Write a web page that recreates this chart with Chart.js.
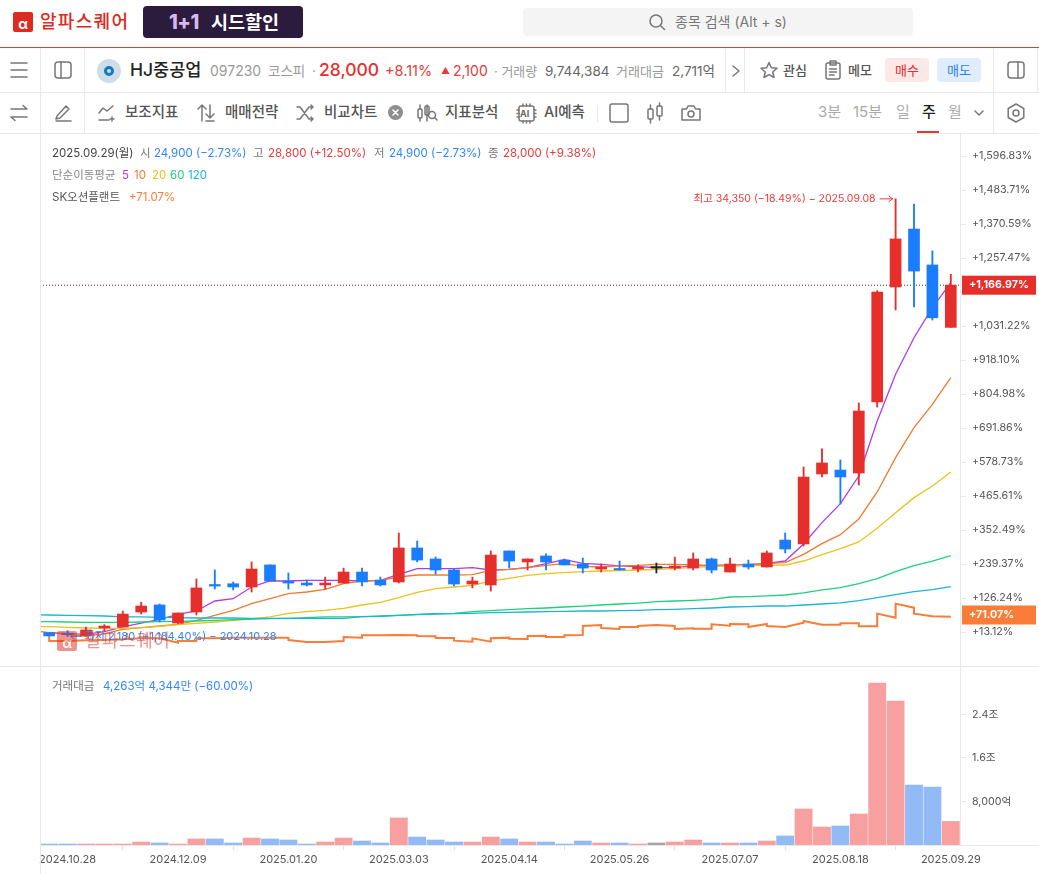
<!DOCTYPE html>
<html lang="ko">
<head>
<meta charset="utf-8">
<title>HJ중공업 주봉 차트</title>
<script src="https://cdn.jsdelivr.net/npm/chart.js@4"></script>
<style>
  html, body { margin: 0; padding: 0; background: #fff; }
  body { position: relative; width: 1039px; height: 874px; overflow: hidden;
         font-family: Inter, "Noto Sans CJK KR", sans-serif; color: #555; }
  .t { position: absolute; line-height: 20px; white-space: nowrap; font-size: 14px; }
  .line { position: absolute; background: #e8e8e8; }
  svg.i { position: absolute; fill: none; stroke: #777; stroke-width: 1.5; stroke-linecap: round; stroke-linejoin: round; }
  canvas { position: absolute; left: 0; }
  .menu { color: #555; font-weight: 500; font-size: 14.5px; }
  .leg { font-size: 11.5px; color: #777; }
  .red { color: #e83a3a; } .blue { color: #2f86ff; }
  .logo { position: absolute; background: #dd2a22; border-radius: 2px; color: #fff; text-align: center; font-weight: 700; }
</style>
</head>
<body>
<!-- top bar -->
<div class="logo" style="left:13px;top:12px;width:20px;height:20px;line-height:24px;font-size:14px">α</div>
<div class="t" style="left:40px;top:12px;font-size:18px;font-weight:500;color:#dd2a22;letter-spacing:1.3px">알파스퀘어</div>
<div style="position:absolute;left:143px;top:6px;width:160px;height:32px;border-radius:4px;background:#2b1b3d"></div>
<div class="t" style="left:169px;top:12px;font-size:20px;font-weight:800;color:#d9b8ee;letter-spacing:-.5px">1+1</div>
<div class="t" style="left:211px;top:12px;font-size:18.5px;font-weight:700;color:#fff">시드할인</div>
<div style="position:absolute;left:523px;top:8px;width:390px;height:28px;border-radius:4px;background:#f4f4f4"></div>
<svg class="i" style="left:648px;top:13px" width="18" height="18"><circle cx="8" cy="8" r="6"/><path d="M12.5 12.5 L16.5 16.5"/></svg>
<div class="t" style="left:675px;top:12px;color:#777">종목 검색 (Alt + s)</div>
<div class="line" style="left:0;top:47px;width:1039px;height:1px;background:#e5392f"></div>

<!-- symbol row -->
<svg class="i" style="left:10px;top:61px" width="18" height="18"><path d="M1 2H17M1 9H17M1 16H17"/></svg>
<svg class="i" style="left:54px;top:61px" width="18" height="18"><rect x="1" y="1" width="16" height="16" rx="3"/><path d="M7 1V17"/></svg>
<div style="position:absolute;left:97px;top:59px;width:24px;height:24px;border-radius:50%;background:#cfdde6"></div>
<div style="position:absolute;left:104px;top:66px;width:4px;height:4px;border:3px solid #1279c9;border-radius:50%"></div>
<div class="t" style="left:130px;top:60px;font-size:17.5px;font-weight:500;color:#222">HJ중공업</div>
<div class="t" style="left:210px;top:61px;color:#999">097230</div>
<div class="t" style="left:268px;top:61px;color:#999;font-size:13.5px">코스피</div>
<div class="t" style="left:312px;top:61px;color:#999">·</div>
<div class="t" style="left:319px;top:60px;font-size:17.5px;font-weight:500;color:#e62e2e">28,000</div>
<div class="t red" style="left:385px;top:61px;font-size:14.5px">+8.11%</div>
<div class="t red" style="left:441px;top:61px;font-size:9px">▲</div>
<div class="t red" style="left:453px;top:61px">2,100</div>
<div class="t" style="left:494px;top:61px;color:#999;font-size:13px">· 거래량</div>
<div class="t" style="left:545px;top:61px;color:#666;font-size:13.5px">9,744,384</div>
<div class="t" style="left:616px;top:61px;color:#999;font-size:13px">거래대금</div>
<div class="t" style="left:672px;top:61px;color:#666;font-size:13.5px">2,711억</div>
<svg class="i" style="left:731px;top:64px" width="10" height="14"><path d="M2 2L8 7L2 12"/></svg>
<svg class="i" style="left:760px;top:61px" width="18" height="18"><path d="M9 1.5L11.3 6.7L17 7.3L12.7 11L14 16.5L9 13.6L4 16.5L5.3 11L1 7.3L6.7 6.7Z"/></svg>
<div class="t menu" style="left:783px;top:60px;font-size:13px">관심</div>
<svg class="i" style="left:825px;top:60px" width="16" height="20"><rect x="1" y="3" width="14" height="16" rx="2"/><path d="M5 1H11V5H5ZM4.5 9H11.5M4.5 12H11.5M4.5 15H9"/></svg>
<div class="t menu" style="left:848px;top:60px;font-size:13px">메모</div>
<div class="t" style="left:885px;top:58px;width:44px;height:24px;line-height:24px;text-align:center;background:#fde8e8;border-radius:4px;color:#ee2a2a;font-size:13px">매수</div>
<div class="t" style="left:937px;top:58px;width:44px;height:24px;line-height:24px;text-align:center;background:#e0edfd;border-radius:4px;color:#2a80ee;font-size:13px">매도</div>
<svg class="i" style="left:1007px;top:61px" width="18" height="18"><rect x="1" y="1" width="16" height="16" rx="3"/><path d="M11 1V17"/></svg>

<!-- toolbar row -->
<svg class="i" style="left:10px;top:104px" width="18" height="18"><path d="M1 5H17L13 1.5M17 13H1L5 16.5"/></svg>
<svg class="i" style="left:54px;top:104px" width="18" height="18"><path d="M3 12L12 2L15 5L6 14L2 15ZM2 17H17"/></svg>
<svg class="i" style="left:98px;top:104px" width="18" height="18"><path d="M1 9L5 4L9 7L15 2M1 16H11M14 13V17M12 15H16"/></svg>
<div class="t menu" style="left:125px;top:102px">보조지표</div>
<svg class="i" style="left:197px;top:103px" width="18" height="20"><path d="M5 18V2L1 6M5 2L9 6M13 2V15M9 11L13 15L17 11M9 18H17"/></svg>
<div class="t menu" style="left:225px;top:102px">매매전략</div>
<svg class="i" style="left:296px;top:104px" width="18" height="18"><path d="M1 3H4L13 15H17M1 15H4L13 3H17M15 1L17 3L15 5M15 13L17 15L15 17"/></svg>
<div class="t menu" style="left:324px;top:102px">비교차트</div>
<div style="position:absolute;left:388px;top:105px;width:15px;height:15px;border-radius:50%;background:#8f8f8f"></div>
<svg class="i" style="left:388px;top:105px;stroke:#fff" width="15" height="15"><path d="M5 5L10 10M10 5L5 10"/></svg>
<svg class="i" style="left:417px;top:103px" width="21" height="20"><rect x="1" y="6" width="4" height="9" rx="1"/><path d="M3 2V6M3 15V18M10 2V18"/><rect x="8" y="3" width="4" height="9" rx="1"/><circle cx="15" cy="12" r="3.5"/><path d="M17.5 14.5L20 17"/></svg>
<div class="t menu" style="left:445px;top:102px">지표분석</div>
<svg class="i" style="left:516px;top:103px" width="21" height="21"><rect x="3" y="3" width="15" height="15" rx="2"/><path d="M7 1V3M10.500 1V3M14 1V3M7 18V20M10.500 18V20M14 18V20M1 7H3M1 10.500H3M1 14H3M18 7H20M18 10.500H20M18 14H20"/></svg>
<div class="t" style="left:520px;top:104px;font-size:9px;font-weight:700;color:#666">AI</div>
<div class="t menu" style="left:544px;top:102px">AI예측</div>
<div class="line" style="left:597px;top:105px;width:1px;height:17px"></div>
<svg class="i" style="left:609px;top:103px" width="20" height="20"><rect x="1" y="1" width="18" height="18" rx="2"/></svg>
<svg class="i" style="left:647px;top:102px" width="17" height="22"><rect x="1" y="7" width="5" height="10" rx="1"/><rect x="10" y="4" width="5" height="10" rx="1"/><path d="M3.500 3V7M3.500 17V21M12.500 1V4M12.500 14V18"/></svg>
<svg class="i" style="left:681px;top:104px" width="20" height="18"><path d="M1 5H5.500L7 2H13L14.500 5H19V16H1Z"/><circle cx="10" cy="10" r="3"/></svg>
<div class="t" style="left:818px;top:102px;color:#aaa;font-size:15px">3분</div>
<div class="t" style="left:853px;top:102px;color:#aaa;font-size:15px">15분</div>
<div class="t" style="left:896px;top:102px;color:#aaa;font-size:15px">일</div>
<div class="t" style="left:922px;top:102px;color:#222;font-weight:500;font-size:15px">주</div>
<div style="position:absolute;left:917px;top:131px;width:22px;height:2px;background:#e5392f"></div>
<div class="t" style="left:948px;top:102px;color:#aaa;font-size:15px">월</div>
<svg class="i" style="left:973px;top:109px" width="12" height="9"><path d="M2 2L6 6L10 2"/></svg>
<svg class="i" style="left:1006px;top:103px" width="20" height="20"><path d="M10 1L17.800 5.500V14.500L10 19L2.200 14.500V5.500Z"/><circle cx="10" cy="10" r="3"/></svg>

<canvas id="priceChart" style="top:134px" width="1039" height="532"></canvas>
<canvas id="volumeChart" style="top:666px" width="1039" height="208"></canvas>

<!-- frame lines -->
<div class="line" style="left:0;top:92px;width:1039px;height:1px"></div>
<div class="line" style="left:0;top:133px;width:1039px;height:1px"></div>
<div class="line" style="left:0;top:666px;width:1039px;height:1px"></div>
<div class="line" style="left:40px;top:48px;width:1px;height:85px"></div>
<div class="line" style="left:84px;top:48px;width:1px;height:85px"></div>
<div class="line" style="left:725px;top:48px;width:1px;height:44px"></div>
<div class="line" style="left:744px;top:48px;width:1px;height:44px"></div>
<div class="line" style="left:993px;top:48px;width:1px;height:85px"></div>
<div class="line" style="left:1037px;top:48px;width:1px;height:44px"></div>
<div class="line" style="left:40px;top:134px;width:1px;height:740px"></div>
<div class="line" style="left:961px;top:845px;width:78px;height:1px"></div>

<!-- chart legends -->
<div class="t leg" style="left:52px;top:143px;color:#444">2025.09.29(월)</div>
<div class="t leg" style="left:140px;top:143px">시</div>
<div class="t leg blue" style="left:154px;top:143px">24,900 (−2.73%)</div>
<div class="t leg" style="left:253px;top:143px">고</div>
<div class="t leg red" style="left:268px;top:143px">28,800 (+12.50%)</div>
<div class="t leg" style="left:374px;top:143px">저</div>
<div class="t leg blue" style="left:389px;top:143px">24,900 (−2.73%)</div>
<div class="t leg" style="left:488px;top:143px">종</div>
<div class="t leg red" style="left:503px;top:143px">28,000 (+9.38%)</div>
<div class="t leg" style="left:52px;top:165px;color:#888">단순이동평균</div>
<div class="t leg" style="left:122px;top:165px;color:#b23be0">5</div>
<div class="t leg" style="left:134px;top:165px;color:#ef7b2f">10</div>
<div class="t leg" style="left:152px;top:165px;color:#e9c31c">20</div>
<div class="t leg" style="left:170px;top:165px;color:#1fd17a">60</div>
<div class="t leg" style="left:188px;top:165px;color:#1cb5d5">120</div>
<div class="t leg" style="left:52px;top:187px;color:#555">SK오션플랜트</div>
<div class="t leg" style="left:129px;top:187px;color:#f97c38">+71.07%</div>
<div class="t leg" style="left:52px;top:676px">거래대금</div>
<div class="t leg blue" style="left:103px;top:676px">4,263억 4,344만 (−60.00%)</div>

<!-- watermark -->
<div class="logo" style="left:57px;top:631px;width:20px;height:20px;line-height:24px;font-size:14px;opacity:.5">α</div>
<div class="t" style="left:85px;top:631px;font-size:18px;color:#dd2a22;opacity:.5;letter-spacing:.5px">알파스퀘어</div>

<script>
// ── Data ─────────────────────────────────────────────────────────────────────
const dates = [
  '2024.10.21','2024.10.28','2024.11.04','2024.11.11','2024.11.18','2024.11.25','2024.12.02','2024.12.09','2024.12.16','2024.12.23',
  '2024.12.30','2025.01.06','2025.01.13','2025.01.20','2025.01.27','2025.02.03','2025.02.10','2025.02.17','2025.02.24','2025.03.03',
  '2025.03.10','2025.03.17','2025.03.24','2025.03.31','2025.04.07','2025.04.14','2025.04.21','2025.04.28','2025.05.05','2025.05.12',
  '2025.05.19','2025.05.26','2025.06.02','2025.06.09','2025.06.16','2025.06.23','2025.06.30','2025.07.07','2025.07.14','2025.07.21',
  '2025.07.28','2025.08.04','2025.08.11','2025.08.18','2025.08.25','2025.09.01','2025.09.08','2025.09.15','2025.09.22','2025.09.29'
];
const opens = [2460,2420,2210,2800,2870,3970,4490,3160,3970,5980,6050,5810,7430,6250,6100,5960,6100,6910,6320,6180,8680,7870,7060,6030,5960,8460,7650,8090,7790,7500,7130,7130,7130,7200,7200,7200,7870,6910,7500,7280,9260,8970,14120,14410,14190,19410,27870,32130,29490,24900];
const closes = [2210,2300,2650,2940,3820,4410,3380,3900,5740,5880,5810,7130,6250,6100,5960,6100,6910,6180,5960,8680,7790,7060,6030,6250,8160,7720,7870,7650,7430,7200,7280,7060,7280,7200,7350,7870,7060,7500,7280,8310,8600,13900,14930,13900,18750,27500,31400,29040,25600,28000];
const highs = [2460,2600,2870,3040,4040,4700,4560,3900,6400,7060,6180,7650,7430,6840,6320,6540,7200,7200,6540,9780,9190,8010,7130,6540,8460,8460,7870,8240,7870,7940,7500,7720,7430,7570,8010,8310,7940,7940,7790,8460,9780,14630,15960,15150,19340,27600,34350,33970,30520,28800];
const lows = [2210,2180,2210,2570,2870,3820,3240,3090,3750,5660,5590,5440,6250,5660,5880,5660,6100,5880,5880,6100,7650,6760,5880,5740,5510,7200,7060,7060,7430,6840,6910,7060,6910,6840,7060,7060,6840,6910,7130,7280,8310,8820,13900,11910,13310,19040,26180,26400,25440,24900];

// moving averages: first entry is the week before the visible window
const ma5 = [null,2450,2380,2330,2525,2870,3160,3430,3800,4045,4780,4950,5810,6250,6250,6300,6300,6300,6250,6300,6740,7155,7155,7155,7230,7060,7110,7230,7525,7820,7550,7475,7355,7305,7230,7230,7355,7400,7425,7450,7550,7720,8970,10540,11940,13970,18015,21450,24140,26350,28190];
const ma10 = [2620,2450,2330,2205,2380,2695,2820,2940,3065,3360,3725,4095,4585,4950,5320,5440,5635,6055,6250,6300,6545,6690,6690,6690,6715,7035,7110,7230,7400,7525,7330,7280,7355,7400,7475,7475,7425,7400,7380,7425,7525,7600,8210,8995,9655,10810,12795,15320,17525,19240,21200];
const ma20 = [2915,2890,2845,2795,2770,2770,2820,2915,3040,3140,3235,3360,3455,3605,3875,3995,4095,4240,4485,4680,5025,5415,5685,5810,5930,6250,6445,6665,6790,6865,6935,6985,7010,7060,7110,7155,7255,7305,7355,7380,7400,7425,7720,8185,8630,9120,10125,11275,12380,13235,14265];
const ma60 = [3260,3260,3235,3210,3210,3210,3235,3260,3285,3310,3360,3405,3455,3480,3505,3555,3605,3605,3630,3650,3725,3800,3850,3875,3995,4070,4140,4215,4265,4340,4410,4485,4560,4630,4730,4780,4830,4900,5075,5100,5150,5220,5370,5590,5760,6055,6420,6935,7380,7720,8115];
const ma120 = [3775,3750,3725,3700,3675,3605,3605,3580,3555,3530,3530,3530,3505,3505,3505,3505,3505,3505,3630,3675,3725,3775,3825,3850,3875,3920,3945,3970,3995,4020,4045,4045,4070,4095,4140,4165,4215,4265,4340,4365,4410,4410,4485,4560,4635,4805,5025,5245,5465,5615,5835];

// SK오션플랜트, rebased onto the same axis (week open, week close)
const compareOpens = [2205,1840,1885,1910,1960,2035,2035,1715,1840,2035,2085,2085,2085,2085,1765,1765,1840,2085,2255,2280,2255,2180,2060,1790,1790,2085,1985,2230,2135,2280,3015,2720,2870,3015,2940,2770,2745,2965,3065,3090,2870,3185,3040,3040,3135,2915,3555,4290,3650,3630];
const compareCloses = [1840,1840,1885,1910,1960,2035,2035,1840,2035,2035,2085,2085,2085,1910,1765,1765,2135,2255,2255,2280,2205,2060,1865,2035,2035,2010,2205,2135,2255,2940,2795,2870,2940,3015,2720,2745,3065,3090,2870,2940,2870,3310,3040,3135,2915,3850,4585,3850,3650,3630];

// traded value, in 억원
const volumes = [180,180,180,180,180,550,370,180,1100,1100,370,1280,1100,920,180,550,1280,730,370,4970,1470,920,550,550,1470,1100,550,550,180,730,370,370,180,370,550,920,370,370,370,730,1660,6620,3300,3490,5700,29760,26460,11030,10650,4340];

const priceTicks = [2500,5000,7500,10000,12500,15000,17500,20000,22500,25000,30000,32500,35000,37500];
const priceTickLabels = ['+13.12%','+126.24%','+239.37%','+352.49%','+465.61%','+578.73%','+691.86%','+804.98%','+918.10%','+1,031.22%','+1,257.47%','+1,370.59%','+1,483.71%','+1,596.83%'];
const volumeTicks = [8000,16000,24000];
const volumeTickLabels = ['8,000억','1.6조','2.4조'];

const lastClose = 28000;
const lastCompare = 3750;
const highIndex = 46;
const lowIndex = 1;

// ── Chart Setup ──────────────────────────────────────────────────────────────
const FONT = 'Inter, "Noto Sans CJK KR", sans-serif';
Chart.defaults.font.family = FONT;
Chart.defaults.animation = false;

const RED = '#e62e2a', BLUE = '#1a7cff';
const candleColor = opens.map((o, i) => closes[i] > o ? RED : closes[i] < o ? BLUE : '#222');
const volumeColor = opens.map((o, i) => closes[i] > o ? '#f8a0a0' : closes[i] < o ? '#91baf6' : '#a3a3a3');

// line series run on a hidden linear axis so that they can lead in past the left edge
function maPoints(values) {
  return values.map((y, i) => ({ x: i - 1, y }));
}
function maLine(values, color) {
  return { type: 'line', data: maPoints(values), xAxisID: 'xc', borderColor: color,
           borderWidth: 1.3, pointRadius: 0, tension: 0, order: 6 };
}
const comparePoints = [];
compareOpens.forEach((o, i) => {
  comparePoints.push({ x: i, y: o });
  comparePoints.push({ x: i, y: compareCloses[i] });
});

function sideAxis(ticks, labels, extra) {
  return Object.assign({
    position: 'right',
    afterFit: s => { s.width = 79; s.paddingTop = 0; s.paddingBottom = 0; },
    afterBuildTicks: s => { s.ticks = ticks.map(value => ({ value })); },
    grid: { drawOnChartArea: false, color: '#e8e8e8', tickLength: 6 },
    border: { color: '#e8e8e8' },
    ticks: { callback: (v, i) => labels[i], color: '#555', font: { size: 10.7 }, padding: 6, autoSkip: false, crossAlign: 'near' }
  }, extra);
}

// draws the price tags and the high / low notes, placed through the scales
const tagsPlugin = {
  id: 'tags',
  afterDraw(chart) {
    const { ctx, scales: { y, x } } = chart;
    ctx.save();
    ctx.textBaseline = 'middle';
    const tag = (value, text, color) => {
      const py = y.getPixelForValue(value);
      ctx.fillStyle = color;
      ctx.fillRect(962, py - 9.5, 74, 19);
      ctx.fillStyle = '#fff';
      ctx.font = '700 10.7px ' + FONT;
      ctx.textAlign = 'left';
      ctx.fillText(text, 969, py);
    };
    tag(lastClose, '+1,166.97%', RED);
    tag(lastCompare, '+71.07%', '#f97c38');

    const arrow = (x0, x1, py, color) => {
      const d = x1 > x0 ? -4 : 4;
      ctx.strokeStyle = color;
      ctx.lineWidth = 1;
      ctx.beginPath();
      ctx.moveTo(x0, py); ctx.lineTo(x1, py);
      ctx.moveTo(x1 + d, py - 3); ctx.lineTo(x1, py); ctx.lineTo(x1 + d, py + 3);
      ctx.stroke();
    };
    ctx.font = '10.5px ' + FONT;
    const hx = x.getPixelForValue(highIndex), hy = y.getPixelForValue(highs[highIndex]);
    ctx.fillStyle = '#e83a3a';
    ctx.textAlign = 'right';
    ctx.fillText('최고 34,350 (−18.49%) − 2025.09.08', hx - 20, hy);
    arrow(hx - 16, hx - 3, hy, '#e83a3a');

    ctx.font = '11px ' + FONT;
    const lx = x.getPixelForValue(lowIndex), ly = y.getPixelForValue(lows[lowIndex]);
    ctx.fillStyle = '#2f86ff';
    ctx.textAlign = 'left';
    ctx.fillText('최저 2,180 (+1,184.40%) − 2024.10.28', lx + 17, ly);
    arrow(lx + 14, lx + 3, ly, '#2f86ff');
    ctx.restore();
  }
};

new Chart(document.getElementById('priceChart'), {
  type: 'bar',
  data: {
    labels: dates,
    datasets: [
      { type: 'line', data: comparePoints, xAxisID: 'xc', borderColor: '#f97c38', borderWidth: 2,
        pointRadius: 0, tension: 0, order: 7 },
      maLine(ma120, '#1cb5d5'),
      maLine(ma60, '#1fd17a'),
      maLine(ma20, '#e9c31c'),
      maLine(ma10, '#ef7b2f'),
      maLine(ma5, '#b23be0'),
      { type: 'line', data: [{ x: -0.5, y: lastClose }, { x: 49.5, y: lastClose }], xAxisID: 'xc',
        borderColor: '#5a2a2a', borderWidth: 1, borderDash: [1, 2], pointRadius: 0, order: 5 },
      { label: 'wick', data: lows.map((l, i) => [l, highs[i]]), backgroundColor: candleColor,
        barThickness: 1.2, grouped: false, order: 3 },
      { label: 'body', data: opens.map((o, i) => [o, closes[i]]), backgroundColor: candleColor,
        barThickness: 11, minBarLength: 1.5, grouped: false, order: 2 }
    ]
  },
  options: {
    responsive: false,
    layout: { padding: { left: 40 } },
    plugins: { legend: { display: false }, tooltip: { enabled: false } },
    scales: {
      x: { type: 'category', offset: true, display: false },
      xc: { type: 'linear', offset: false, min: -0.5, max: 49.5, display: false },
      y: sideAxis(priceTicks, priceTickLabels, { min: 0, max: 39118 })
    }
  },
  plugins: [tagsPlugin]
});

new Chart(document.getElementById('volumeChart'), {
  type: 'bar',
  data: {
    labels: dates,
    datasets: [{ data: volumes, backgroundColor: volumeColor, barThickness: 17.2 }]
  },
  options: {
    responsive: false,
    layout: { padding: { left: 40 } },
    plugins: { legend: { display: false }, tooltip: { enabled: false } },
    scales: {
      x: {
        offset: true,
        afterFit: s => { s.height = 29; },
        afterBuildTicks: s => { s.ticks = s.ticks.filter(t => t.value % 6 === 1); },
        grid: { drawOnChartArea: false, color: '#e0e0e0', tickLength: 5 },
        border: { color: '#e8e8e8' },
        ticks: { autoSkip: false, maxRotation: 0, color: '#555', font: { size: 11 }, padding: 3 }
      },
      y: sideAxis(volumeTicks, volumeTickLabels, { min: 0, max: 32900 })
    }
  }
});
</script>
</body>
</html>
